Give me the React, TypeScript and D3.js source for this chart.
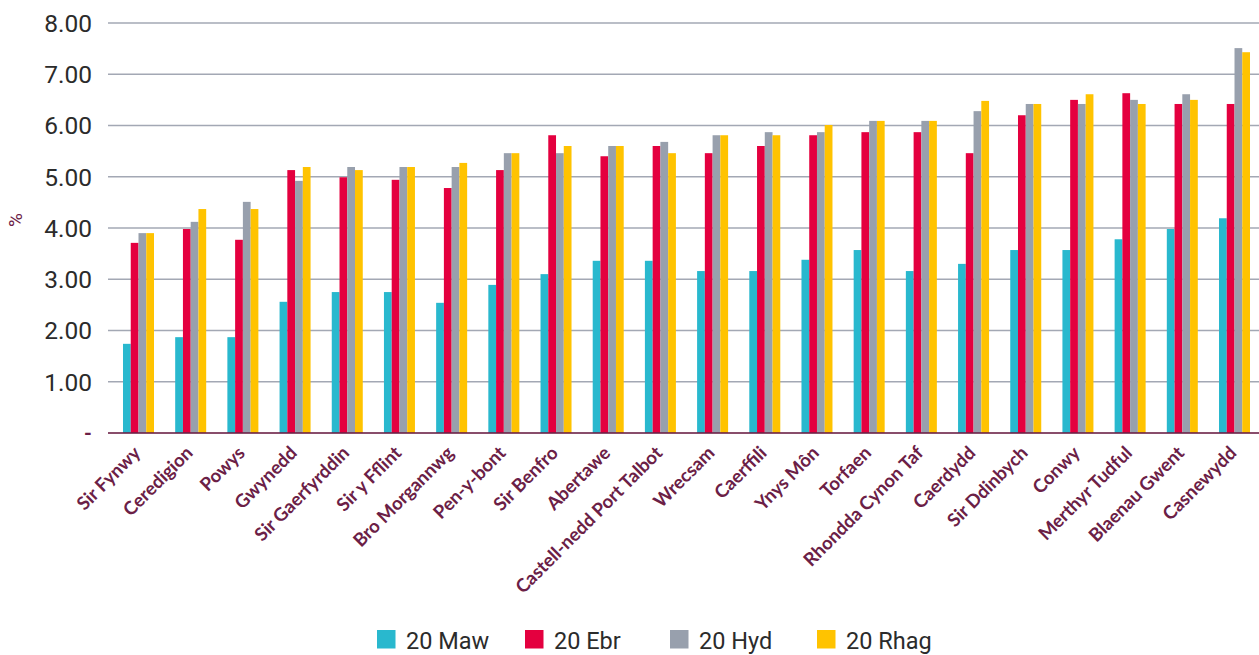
import React, {useEffect, useRef} from 'react'
import * as d3 from 'd3'

const categories = ['Sir Fynwy', 'Ceredigion', 'Powys', 'Gwynedd', 'Sir Gaerfyrddin', 'Sir y Fflint', 'Bro Morgannwg', 'Pen-y-bont', 'Sir Benfro', 'Abertawe', 'Castell-nedd Port Talbot', 'Wrecsam', 'Caerffili', 'Ynys Môn', 'Torfaen', 'Rhondda Cynon Taf', 'Caerdydd', 'Sir Ddinbych', 'Conwy', 'Merthyr Tudful', 'Blaenau Gwent', 'Casnewydd']

const seriesNames = ['20 Maw', '20 Ebr', '20 Hyd', '20 Rhag']
const maw = [1.74, 1.87, 1.87, 2.56, 2.75, 2.75, 2.54, 2.89, 3.10, 3.36, 3.36, 3.16, 3.16, 3.38, 3.57, 3.16, 3.30, 3.57, 3.57, 3.78, 3.98, 4.19]
const ebr = [3.71, 3.98, 3.77, 5.13, 4.99, 4.94, 4.78, 5.13, 5.81, 5.40, 5.60, 5.46, 5.60, 5.81, 5.87, 5.87, 5.46, 6.20, 6.50, 6.63, 6.42, 6.42]
const hyd = [3.90, 4.12, 4.51, 4.92, 5.19, 5.19, 5.19, 5.46, 5.46, 5.60, 5.68, 5.81, 5.87, 5.87, 6.09, 6.09, 6.28, 6.42, 6.42, 6.50, 6.61, 7.51]
const rhag = [3.90, 4.37, 4.37, 5.19, 5.13, 5.19, 5.27, 5.46, 5.60, 5.60, 5.46, 5.81, 5.81, 6.01, 6.09, 6.09, 6.48, 6.42, 6.61, 6.42, 6.50, 7.43]
const yTicks = [0, 1, 2, 3, 4, 5, 6, 7, 8]

const colors = ['#29b8ce', '#e4003f', '#98a0ad', '#ffc300']
const maroon = '#6b2046'
const width = 1259
const height = 655

export default function App() {
  const ref = useRef<SVGSVGElement>(null)

  useEffect(() => {
    const svg = d3.select(ref.current)
    svg.selectAll('*').remove()

    const series = [maw, ebr, hyd, rhag]

    const x = d3.scaleBand().domain(categories).range([112.4, 1260.6]).paddingInner(0.406).paddingOuter(0.203)
    const x1 = d3.scaleBand().domain(seriesNames).range([0, x.bandwidth()])
    const y = d3.scaleLinear().domain([0, 8]).range([433, 23])

    // gridlines
    svg.append('g')
      .selectAll('line')
      .data(yTicks.filter(d => d > 0))
      .enter()
      .append('line')
      .attr('x1', 108).attr('x2', width)
      .attr('y1', d => y(d)).attr('y2', d => y(d))
      .attr('stroke', '#a3a8b4')
      .attr('stroke-width', 1.5)

    // y tick labels
    svg.append('g')
      .selectAll('text')
      .data(yTicks)
      .enter()
      .append('text')
      .text(d => d === 0 ? '-' : d.toFixed(2))
      .attr('x', 92)
      .attr('y', d => y(d))
      .attr('dy', '0.36em')
      .attr('text-anchor', 'end')
      .attr('font-family', 'Roboto, sans-serif')
      .attr('font-size', d => d === 0 ? 20 : 24.5)
      .attr('font-weight', d => d === 0 ? 700 : 400)
      .attr('fill', d => d === 0 ? maroon : '#2b2b2b')

    svg.append('text')
      .text('%')
      .attr('transform', 'translate(22,220) rotate(-90)')
      .attr('text-anchor', 'middle')
      .attr('font-family', 'Roboto, sans-serif')
      .attr('font-size', 19)
      .attr('fill', maroon)

    // bars
    const groups = svg.append('g')
      .selectAll('g')
      .data(categories)
      .enter()
      .append('g')
      .attr('transform', d => 'translate(' + x(d) + ',0)')

    groups.selectAll('rect')
      .data((d, i) => series.map((s, k) => ({key: seriesNames[k], value: s[i], color: colors[k]})))
      .enter()
      .append('rect')
      .attr('x', d => x1(d.key) as number)
      .attr('width', x1.bandwidth())
      .attr('y', d => y(d.value))
      .attr('height', d => y(0) - y(d.value))
      .attr('fill', d => d.color)

    // baseline
    svg.append('line')
      .attr('x1', 108).attr('x2', width)
      .attr('y1', y(0)).attr('y2', y(0))
      .attr('stroke', maroon)
      .attr('stroke-opacity', 0.8)
      .attr('stroke-width', 2)

    // category labels
    svg.append('g')
      .selectAll('text')
      .data(categories)
      .enter()
      .append('text')
      .text(d => d)
      .attr('transform', d => 'translate(' + ((x(d) as number) + x.bandwidth() / 2 - 6) + ',445) rotate(-45)')
      .attr('text-anchor', 'end')
      .attr('dy', '0.7em')
      .attr('font-family', 'Lato, sans-serif')
      .attr('font-size', 18.5)
      .attr('font-weight', 700)
      .attr('fill', maroon)

    // legend
    const legendX = [377, 525, 670, 817]
    const legend = svg.append('g')
      .selectAll('g')
      .data(seriesNames)
      .enter()
      .append('g')
      .attr('transform', (d, i) => 'translate(' + legendX[i] + ',630)')
    legend.append('rect')
      .attr('width', 18.5).attr('height', 18.5)
      .attr('fill', (d, i) => colors[i])
    legend.append('text')
      .text(d => d)
      .attr('x', 29)
      .attr('y', 19)
      .attr('font-family', 'Roboto, sans-serif')
      .attr('font-size', 23.5)
      .attr('fill', '#2b2b2b')
  }, [])

  return (
    <svg ref={ref} width={width} height={height} style={{position: 'absolute', left: 0, top: 0, background: '#fff'}} />
  )
}
